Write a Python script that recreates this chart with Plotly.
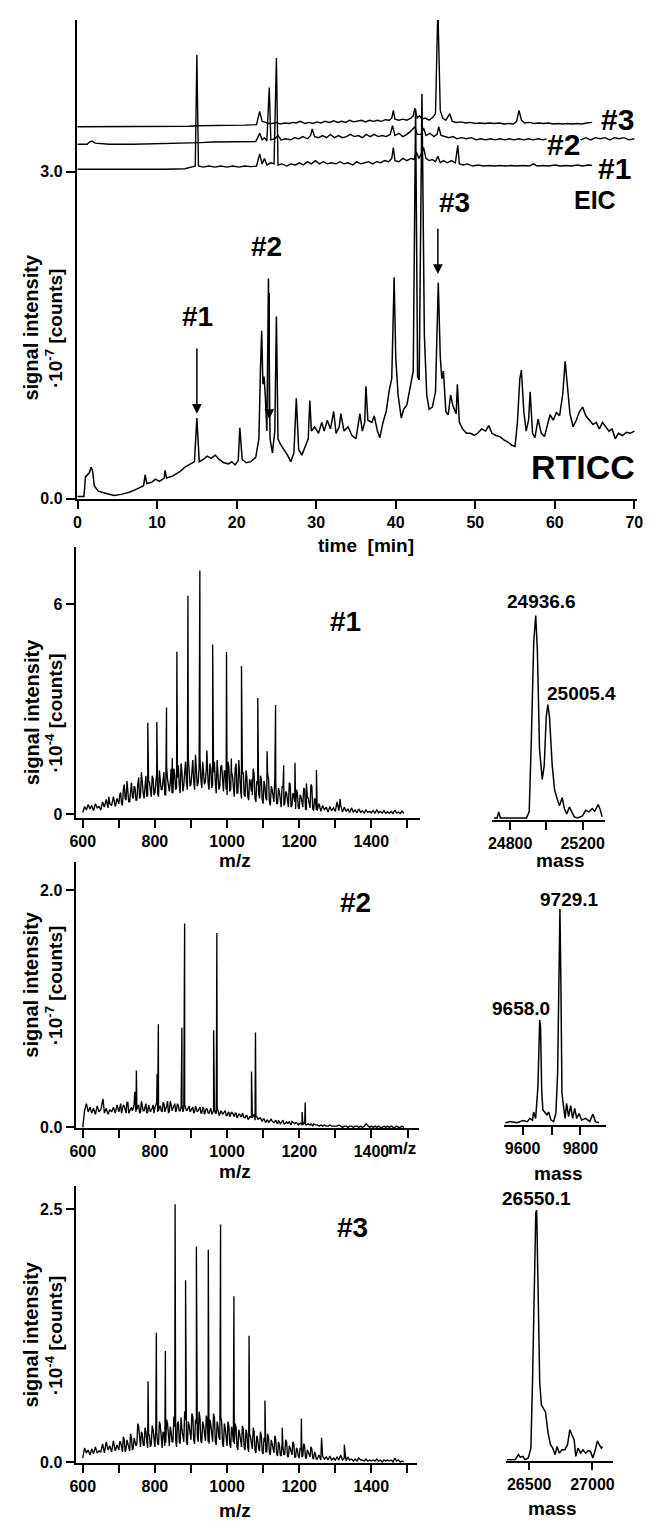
import plotly.graph_objects as go

W, H = 658, 1529
FONT = "Liberation Sans, Arial, Helvetica, sans-serif"

# ---------------- chromatogram: RTICC (signal x 10^-7 counts) ----------------
rticc_time = [0.0, 0.8, 1.0, 1.3, 1.5, 1.7, 1.9, 2.1, 2.6, 3.5, 4.6, 5.5, 6.5, 7.5, 8.3, 8.5, 8.7, 9.3, 9.8,
              10.3, 10.9, 11.0, 11.2, 12.0, 12.9, 13.5, 14.2, 14.7, 15.0, 15.3, 15.8, 16.3, 16.8, 17.3, 17.8,
              18.4, 19.0, 19.4, 19.8, 20.2, 20.4, 20.7, 21.2, 21.8, 22.4, 22.8, 23.0, 23.15, 23.3, 23.45, 23.6,
              23.8, 24.0, 24.2, 24.5, 24.8, 25.0, 25.2, 25.5, 25.9, 26.4, 26.8, 27.2, 27.5, 27.8, 28.2, 28.7,
              29.0, 29.2, 29.4, 29.8, 30.3, 30.7, 31.0, 31.4, 31.8, 32.2, 32.5, 32.9, 33.1, 33.5, 34.0, 34.5,
              35.0, 35.5, 35.8, 36.1, 36.25, 36.5, 37.0, 37.3, 37.7, 38.0, 38.4, 38.8, 39.2, 39.5, 39.8, 40.0,
              40.3, 40.7, 41.0, 41.4, 41.8, 42.2, 42.5, 42.75, 42.95, 43.3, 43.6, 43.9, 44.2, 44.6, 45.0, 45.35,
              45.6, 45.8, 46.0, 46.3, 46.6, 46.9, 47.2, 47.6, 47.75, 48.0, 48.4, 48.9, 49.4, 49.9, 50.3, 50.8,
              51.3, 51.7, 52.1, 52.6, 53.1, 53.6, 54.1, 54.6, 55.0, 55.3, 55.6, 55.8, 56.1, 56.4, 56.7, 56.9,
              57.2, 57.5, 57.9, 58.3, 58.7, 59.1, 59.4, 59.8, 60.2, 60.6, 61.0, 61.3, 61.6, 61.9, 62.3, 62.7,
              63.1, 63.5, 63.9, 64.3, 64.8, 65.2, 65.6, 66.0, 66.4, 66.8, 67.2, 67.6, 68.0, 68.5, 69.0, 69.5, 70.0]
rticc_signal = [0.02, 0.02, 0.20, 0.22, 0.24, 0.29, 0.25, 0.12, 0.07, 0.05, 0.03, 0.04, 0.06, 0.09, 0.12, 0.22, 0.14, 0.15, 0.18,
                0.16, 0.19, 0.26, 0.19, 0.21, 0.25, 0.29, 0.32, 0.34, 0.74, 0.34, 0.36, 0.39, 0.37, 0.40, 0.36,
                0.33, 0.32, 0.34, 0.31, 0.35, 0.65, 0.36, 0.33, 0.34, 0.38, 0.55, 1.20, 1.54, 1.05, 1.12, 0.95,
                0.62, 2.02, 0.55, 0.42, 0.62, 1.67, 0.55, 0.50, 0.46, 0.40, 0.34, 0.42, 0.92, 0.45, 0.40, 0.50,
                0.55, 0.90, 0.62, 0.66, 0.60, 0.70, 0.62, 0.72, 0.64, 0.80, 0.60, 0.66, 0.78, 0.62, 0.66, 0.58,
                0.55, 0.78, 0.62, 0.70, 1.03, 0.72, 0.70, 0.76, 0.62, 0.56, 0.70, 0.80, 1.00, 1.10, 2.03, 1.30,
                0.95, 0.74, 0.82, 0.86, 1.00, 1.17, 3.57, 1.12, 1.09, 3.71, 1.50, 0.95, 0.82, 0.84, 0.98, 1.98,
                1.30, 1.10, 1.17, 0.80, 0.77, 0.95, 0.85, 0.78, 1.05, 0.70, 0.64, 0.60, 0.60, 0.58, 0.60, 0.64,
                0.62, 0.67, 0.60, 0.58, 0.57, 0.54, 0.52, 0.49, 0.48, 0.70, 1.10, 1.18, 0.80, 0.62, 0.72, 0.98,
                0.60, 0.56, 0.73, 0.60, 0.57, 0.70, 0.77, 0.72, 0.79, 0.76, 0.96, 1.26, 1.00, 0.78, 0.66, 0.72,
                0.80, 0.84, 0.76, 0.72, 0.68, 0.70, 0.64, 0.70, 0.66, 0.62, 0.64, 0.55, 0.60, 0.58, 0.61, 0.60, 0.62]

# ---------------- extracted ion chromatograms (relative heights, drawn with offsets) ----------------
eic1_time = [0, 2, 5, 8, 11, 13.5, 14.3, 14.8, 15.0, 15.2, 15.8, 16.5, 17.3, 18.0, 18.8, 19.5, 20.3, 21.0, 21.8,
             22.5, 22.9, 23.2, 23.5, 23.8, 24.3, 24.7, 25.0, 25.2, 25.7, 26.3, 26.8, 27.4, 27.9, 28.4, 28.9, 29.4,
             29.9, 30.4, 30.9, 31.4, 31.9, 32.5, 33.0, 33.5, 34.0, 34.6, 35.1, 35.6, 36.1, 36.6, 37.1, 37.6, 38.1,
             38.6, 39.1, 39.5, 39.7, 39.9, 40.4, 40.9, 41.4, 41.9, 42.3, 42.6, 42.9, 43.2, 43.5, 43.8, 44.2, 44.6,
             45.0, 45.3, 45.6, 46.0, 46.5, 47.0, 47.5, 47.8, 48.0, 48.5, 49.0, 49.7, 50.4, 51.0, 51.7, 52.4, 53.1,
             53.8, 54.5, 55.2, 56.0, 56.8, 57.3, 57.8, 58.5, 59.2, 60.0, 60.7, 61.4, 62.1, 62.8, 63.5, 64.2, 64.7]
eic1_signal = [0.0, 0.0, -0.005, 0.0, 0.0, 0.005, 0.02, 0.03, 1.05, 0.03, 0.02, 0.03, 0.02, 0.03, 0.02, 0.03, 0.02, 0.03, 0.025,
               0.03, 0.14, 0.05, 0.10, 0.04, 0.06, 0.05, 1.02, 0.04, 0.05, 0.03, 0.05, 0.04, 0.06, 0.04, 0.07, 0.05,
               0.08, 0.05, 0.07, 0.05, 0.06, 0.05, 0.07, 0.05, 0.06, 0.04, 0.07, 0.05, 0.06, 0.07, 0.05, 0.07, 0.06,
               0.08, 0.07, 0.10, 0.20, 0.08, 0.07, 0.10, 0.08, 0.10, 0.09, 0.16, 0.10, 0.14, 0.20, 0.10, 0.08, 0.09,
               0.07, 0.12, 0.06, 0.08, 0.06, 0.08, 0.06, 0.22, 0.05, 0.04, 0.05, 0.03, 0.04, 0.03, 0.035, 0.03, 0.035,
               0.03, 0.035, 0.03, 0.035, 0.03, 0.05, 0.03, 0.035, 0.03, 0.04, 0.03, 0.035, 0.03, 0.04, 0.03, 0.04, 0.035]

eic2_time = [0, 1.2, 1.5, 1.8, 2.2, 4, 7, 10, 13, 14.5, 15.5, 17, 19, 21, 22.4, 22.9, 23.2, 23.5, 23.8, 24.1, 24.3,
             24.8, 25.2, 25.6, 26.2, 26.8, 27.3, 27.8, 28.3, 28.9, 29.3, 29.5, 29.8, 30.3, 30.8, 31.3, 31.8, 32.3,
             32.8, 33.3, 33.8, 34.3, 34.8, 35.3, 35.8, 36.3, 36.8, 37.3, 37.8, 38.3, 38.8, 39.3, 39.6, 39.9, 40.4,
             40.9, 41.4, 41.9, 42.4, 42.7, 43.2, 43.5, 43.8, 44.3, 44.8, 45.2, 45.4, 45.7, 46.2, 46.7, 47.2, 47.7,
             48.3, 48.9, 49.5, 50.1, 50.7, 51.3, 51.9, 52.5, 53.1, 53.7, 54.3, 54.9, 55.5, 56.1, 56.7, 57.3, 57.9,
             58.5, 59.1, 59.7, 60.3, 60.9, 61.5, 62.1, 62.7, 63.3, 63.9, 64.5, 65.1, 65.7, 66.3, 66.9, 67.5, 68.1,
             68.7, 69.3, 70.0]
eic2_signal = [0.0, 0.0, 0.02, 0.03, 0.01, 0.0, 0.0, 0.005, 0.005, 0.01, 0.015, 0.02, 0.02, 0.02, 0.025, 0.10, 0.04, 0.06, 0.03, 0.52, 0.04,
               0.05, 0.08, 0.04, 0.05, 0.04, 0.06, 0.05, 0.07, 0.05, 0.08, 0.14, 0.07, 0.06, 0.08, 0.06, 0.09, 0.06,
               0.08, 0.06, 0.07, 0.09, 0.07, 0.08, 0.06, 0.09, 0.07, 0.09, 0.07, 0.08, 0.07, 0.09, 0.17, 0.08, 0.10,
               0.07, 0.09, 0.12, 0.16, 0.09, 0.09, 0.15, 0.08, 0.10, 0.07, 0.09, 0.16, 0.08, 0.07, 0.06, 0.07, 0.05,
               0.06, 0.05, 0.06, 0.04, 0.05, 0.04, 0.05, 0.04, 0.05, 0.04, 0.05, 0.04, 0.05, 0.04, 0.05, 0.04, 0.05,
               0.04, 0.05, 0.04, 0.05, 0.04, 0.05, 0.06, 0.05, 0.04, 0.06, 0.04, 0.06, 0.05, 0.06, 0.04, 0.06, 0.05,
               0.06, 0.04, 0.05]

eic3_time = [0, 5, 10, 14, 15, 17, 19, 21, 22.5, 22.9, 23.2, 23.6, 24.0, 24.5, 25.0, 25.5, 26.0, 26.6, 27.1, 27.5,
             28.0, 28.6, 29.1, 29.6, 30.1, 30.6, 31.1, 31.7, 32.2, 32.7, 33.2, 33.7, 34.2, 34.7, 35.2, 35.7, 36.2,
             36.7, 37.2, 37.7, 38.2, 38.7, 39.2, 39.5, 39.7, 39.9, 40.4, 40.9, 41.4, 41.9, 42.2, 42.4, 42.7, 43.0,
             43.3, 43.7, 44.2, 44.7, 45.0, 45.3, 45.6, 45.9, 46.3, 46.8, 47.1, 47.6, 48.2, 48.8, 49.4, 50.0, 50.6,
             51.2, 51.8, 52.4, 53.0, 53.6, 54.2, 54.8, 55.2, 55.5, 55.8, 56.2, 56.8, 57.4, 58.0, 58.6, 59.2, 59.8,
             60.4, 61.0, 61.6, 62.2, 62.8, 63.4, 64.0, 64.7]
eic3_signal = [0.0, 0.0, 0.0, 0.005, 0.01, 0.01, 0.015, 0.015, 0.02, 0.14, 0.05, 0.04, 0.03, 0.03, 0.04, 0.025, 0.035, 0.03, 0.04, 0.035,
               0.05, 0.03, 0.04, 0.03, 0.045, 0.035, 0.05, 0.04, 0.055, 0.04, 0.05, 0.04, 0.06, 0.045, 0.05, 0.06, 0.045,
               0.06, 0.05, 0.06, 0.05, 0.065, 0.06, 0.08, 0.15, 0.07, 0.06, 0.07, 0.06, 0.08, 0.10, 0.17, 0.08, 0.10,
               0.07, 0.08, 0.06, 0.09, 0.12, 1.10, 0.15, 0.08, 0.06, 0.12, 0.05, 0.04, 0.045, 0.035, 0.04, 0.03, 0.035,
               0.03, 0.035, 0.03, 0.035, 0.025, 0.03, 0.025, 0.05, 0.15, 0.06, 0.035, 0.04, 0.03, 0.035, 0.03, 0.035, 0.025,
               0.03, 0.025, 0.03, 0.025, 0.03, 0.025, 0.035, 0.04]

eic_offsets = [3.02, 3.25, 3.41]
time_ticks = [0, 10, 20, 30, 40, 50, 60, 70]

# ---------------- ESI mass spectra ----------------
ms_grid = list(range(600, 1495, 5))              # m/z of the baseline readings
grass_grid = [702.5 + 5 * i for i in range(110)]  # m/z of the in-between readings (702.5 ... 1247.5)

ms1_noise = [0.05, 0.22, 0.12, 0.28, 0.15, 0.25, 0.10, 0.30, 0.18, 0.22,
             0.12, 0.35, 0.20, 0.42, 0.18, 0.30, 0.25, 0.50, 0.22, 0.45,
             0.30, 0.62, 0.25, 0.85, 0.40, 0.70, 0.35, 0.90, 0.45, 0.75,
             0.40, 1.05, 0.50, 0.80, 0.45, 1.10, 0.55, 0.90, 0.50, 1.00,
             0.60, 1.15, 0.50, 0.95, 0.70, 1.20, 0.55, 1.00, 0.65, 1.30,
             0.60, 1.10, 0.75, 1.40, 0.60, 1.20, 0.80, 1.50, 0.70, 1.25,
             0.85, 1.55, 0.70, 1.30, 0.90, 1.60, 0.75, 1.20, 0.95, 1.45,
             0.70, 1.30, 0.85, 1.50, 0.60, 1.25, 0.80, 1.40, 0.65, 1.20,
             0.55, 1.35, 0.70, 1.10, 0.50, 1.45, 0.60, 1.00, 0.45, 1.20,
             0.50, 1.05, 0.40, 0.90, 0.55, 1.15, 0.35, 0.85, 0.45, 1.00,
             0.30, 0.80, 0.40, 1.00, 0.25, 0.70, 0.35, 0.90, 0.30, 0.65,
             0.20, 0.75, 0.30, 0.60, 0.20, 0.85, 0.25, 0.55, 0.15, 0.60,
             0.15, 0.50, 0.20, 0.70, 0.12, 0.45, 0.18, 0.80, 0.10, 0.40,
             0.10, 0.30, 0.08, 0.25, 0.12, 0.20, 0.06, 0.22, 0.10, 0.18,
             0.08, 0.35, 0.10, 0.25, 0.06, 0.20, 0.08, 0.15, 0.05, 0.18,
             0.06, 0.12, 0.04, 0.15, 0.05, 0.10, 0.03, 0.12, 0.05, 0.08,
             0.04, 0.10, 0.03, 0.12, 0.04, 0.08, 0.03, 0.10, 0.02, 0.07,
             0.03, 0.08, 0.02, 0.12, 0.03, 0.06, 0.02, 0.09, 0.02]
ms1_grass = [0.55, 0.30, 0.70, 0.45, 0.95, 0.35, 0.60, 0.50, 0.80, 0.40,
             0.85, 0.45, 1.20, 0.60, 0.75, 0.50, 0.95, 0.65, 1.10, 0.55,
             0.90, 0.60, 1.25, 0.70, 1.00, 0.55, 1.35, 0.75, 0.90, 0.60,
             1.30, 0.70, 1.05, 0.85, 1.45, 0.65, 1.20, 0.90, 1.60, 0.80,
             1.25, 0.95, 1.70, 0.80, 1.35, 1.00, 1.50, 0.85, 1.30, 0.90,
             1.45, 0.75, 1.20, 0.90, 1.55, 0.70, 1.35, 0.85, 1.25, 0.70,
             1.50, 0.65, 1.20, 0.80, 1.30, 0.60, 1.55, 0.70, 1.15, 0.55,
             1.25, 0.50, 1.00, 0.65, 1.30, 0.45, 0.95, 0.60, 1.10, 0.40,
             0.95, 0.45, 1.15, 0.35, 0.80, 0.50, 1.05, 0.30, 0.75, 0.40,
             0.80, 0.25, 0.65, 0.40, 0.90, 0.20, 0.60, 0.35, 0.70, 0.20,
             0.55, 0.25, 0.75, 0.15, 0.50, 0.30, 0.85, 0.15, 0.45, 0.12]
ms1_peak_mz = [672, 754, 780.3, 805.4, 832.2, 848, 860.9, 891.6, 924.6, 944, 960.1, 998.5, 1012, 1040.0,
               1069, 1085.2, 1111, 1134.5, 1157, 1188.4, 1220, 1247.8, 1313.4]
ms1_peak_int = [0.50, 1.00, 2.61, 2.63, 3.05, 1.60, 4.64, 6.24, 6.96, 1.82, 4.85, 4.63, 1.59, 4.23,
                1.00, 3.32, 1.80, 3.12, 1.40, 1.47, 0.88, 1.26, 0.43]

ms2_noise = [0.00, 0.14, 0.20, 0.13, 0.17, 0.12, 0.16, 0.11, 0.18, 0.13,
             0.15, 0.24, 0.12, 0.16, 0.11, 0.15, 0.13, 0.17, 0.12, 0.19,
             0.13, 0.20, 0.15, 0.18, 0.12, 0.21, 0.14, 0.17, 0.16, 0.22,
             0.15, 0.19, 0.13, 0.17, 0.14, 0.20, 0.13, 0.16, 0.15, 0.19,
             0.17, 0.21, 0.14, 0.18, 0.13, 0.20, 0.15, 0.22, 0.14, 0.19,
             0.16, 0.20, 0.15, 0.18, 0.14, 0.19, 0.16, 0.17, 0.15, 0.18,
             0.14, 0.17, 0.13, 0.16, 0.14, 0.17, 0.12, 0.16, 0.13, 0.15,
             0.12, 0.16, 0.13, 0.15, 0.12, 0.14, 0.11, 0.13, 0.12, 0.14,
             0.10, 0.13, 0.11, 0.12, 0.09, 0.12, 0.10, 0.11, 0.09, 0.10,
             0.08, 0.10, 0.07, 0.09, 0.08, 0.11, 0.09, 0.07, 0.08, 0.06,
             0.07, 0.05, 0.06, 0.04, 0.06, 0.05, 0.04, 0.06, 0.03, 0.05,
             0.04, 0.06, 0.03, 0.05, 0.04, 0.03, 0.05, 0.03, 0.04, 0.03,
             0.03, 0.04, 0.02, 0.03, 0.02, 0.03, 0.02, 0.02, 0.03, 0.02,
             0.02, 0.01, 0.02, 0.01, 0.02, 0.01, 0.01, 0.02, 0.01, 0.01,
             0.01, 0.01, 0.02, 0.01, 0.00, 0.01, 0.01, 0.00, 0.01, 0.01,
             0.00, 0.01, 0.01, 0.00, 0.01, 0.00, 0.01, 0.03, 0.01, 0.00,
             0.01, 0.00, 0.01, 0.00, 0.01, 0.00, 0.00, 0.01, 0.00, 0.01,
             0.00, 0.01, 0.00, 0.00, 0.01, 0.00, 0.00, 0.01, 0.00]
ms2_grass = [0.17, 0.12, 0.19, 0.13, 0.21, 0.12, 0.16, 0.14, 0.20, 0.13,
             0.18, 0.12, 0.22, 0.14, 0.17, 0.12, 0.19, 0.13, 0.16, 0.12,
             0.19, 0.13, 0.17, 0.14, 0.21, 0.13, 0.18, 0.12, 0.22, 0.14,
             0.18, 0.13, 0.20, 0.14, 0.17, 0.13, 0.19, 0.14, 0.16, 0.13,
             0.16, 0.12, 0.18, 0.13, 0.15, 0.12, 0.17, 0.11, 0.16, 0.12,
             0.15, 0.11, 0.14, 0.12, 0.16, 0.10, 0.14, 0.11, 0.13, 0.10,
             0.12, 0.09, 0.13, 0.10, 0.12, 0.08, 0.11, 0.09, 0.12, 0.08,
             0.10, 0.07, 0.09, 0.08, 0.10, 0.06, 0.09, 0.07, 0.08, 0.05,
             0.07, 0.04, 0.06, 0.05, 0.07, 0.04, 0.05, 0.04, 0.06, 0.03,
             0.05, 0.03, 0.04, 0.03, 0.05, 0.02, 0.04, 0.03, 0.04, 0.02,
             0.03, 0.02, 0.04, 0.02, 0.03, 0.02, 0.03, 0.01, 0.02, 0.02]
ms2_peak_mz = [656, 744, 748.6, 806, 809.5, 874.8, 882.3, 962.7, 971.6, 1067.6, 1078.6, 1208, 1216.5]
ms2_peak_int = [0.24, 0.30, 0.48, 0.45, 0.87, 0.84, 1.72, 0.82, 1.64, 0.47, 0.80, 0.13, 0.21]

ms3_noise = [0.04, 0.14, 0.09, 0.12, 0.07, 0.13, 0.08, 0.15, 0.09, 0.11,
             0.10, 0.18, 0.09, 0.20, 0.12, 0.16, 0.10, 0.21, 0.11, 0.17,
             0.12, 0.20, 0.10, 0.22, 0.13, 0.18, 0.11, 0.24, 0.14, 0.20,
             0.18, 0.35, 0.15, 0.28, 0.16, 0.30, 0.14, 0.26, 0.18, 0.32,
             0.15, 0.30, 0.17, 0.36, 0.14, 0.28, 0.19, 0.38, 0.16, 0.30,
             0.20, 0.35, 0.15, 0.40, 0.18, 0.32, 0.20, 0.42, 0.17, 0.36,
             0.22, 0.45, 0.18, 0.38, 0.20, 0.43, 0.19, 0.36, 0.21, 0.40,
             0.18, 0.37, 0.20, 0.44, 0.17, 0.35, 0.22, 0.40, 0.15, 0.33,
             0.16, 0.36, 0.14, 0.30, 0.18, 0.34, 0.12, 0.28, 0.15, 0.32,
             0.12, 0.28, 0.10, 0.25, 0.13, 0.30, 0.09, 0.22, 0.11, 0.26,
             0.08, 0.20, 0.10, 0.24, 0.07, 0.18, 0.09, 0.22, 0.06, 0.17,
             0.06, 0.15, 0.08, 0.20, 0.05, 0.14, 0.07, 0.18, 0.05, 0.12,
             0.04, 0.12, 0.06, 0.16, 0.04, 0.10, 0.05, 0.13, 0.03, 0.08,
             0.03, 0.07, 0.02, 0.06, 0.03, 0.05, 0.02, 0.06, 0.02, 0.04,
             0.02, 0.05, 0.02, 0.07, 0.02, 0.04, 0.01, 0.05, 0.02, 0.03,
             0.01, 0.03, 0.01, 0.04, 0.02, 0.02, 0.01, 0.03, 0.01, 0.02,
             0.01, 0.02, 0.01, 0.03, 0.01, 0.02, 0.00, 0.02, 0.01, 0.02,
             0.01, 0.02, 0.00, 0.04, 0.01, 0.02, 0.00, 0.01, 0.00]
ms3_grass = [0.20, 0.12, 0.25, 0.10, 0.22, 0.15, 0.28, 0.12, 0.24, 0.16,
             0.38, 0.20, 0.30, 0.17, 0.34, 0.20, 0.28, 0.15, 0.36, 0.22,
             0.33, 0.18, 0.40, 0.20, 0.30, 0.16, 0.42, 0.22, 0.35, 0.20,
             0.45, 0.22, 0.38, 0.20, 0.44, 0.24, 0.50, 0.20, 0.40, 0.25,
             0.48, 0.22, 0.42, 0.26, 0.50, 0.20, 0.40, 0.24, 0.46, 0.20,
             0.42, 0.24, 0.48, 0.20, 0.40, 0.25, 0.45, 0.18, 0.38, 0.20,
             0.40, 0.18, 0.35, 0.20, 0.38, 0.15, 0.32, 0.18, 0.36, 0.14,
             0.32, 0.14, 0.28, 0.16, 0.34, 0.12, 0.26, 0.13, 0.30, 0.10,
             0.24, 0.10, 0.28, 0.09, 0.22, 0.11, 0.26, 0.08, 0.20, 0.07,
             0.18, 0.07, 0.22, 0.06, 0.16, 0.08, 0.20, 0.05, 0.14, 0.06,
             0.14, 0.05, 0.18, 0.04, 0.12, 0.06, 0.15, 0.04, 0.10, 0.03]
ms3_peak_mz = [781, 804, 829, 856, 885, 915, 948, 982, 1019, 1061, 1105, 1153, 1206, 1262, 1325]
ms3_peak_int = [0.80, 1.28, 1.10, 2.55, 1.80, 2.13, 2.10, 2.35, 1.64, 1.25, 0.61, 0.34, 0.43, 0.24, 0.17]

mz_major_ticks = [600, 800, 1000, 1200, 1400]
mz_minor_ticks = [700, 900, 1100, 1300, 1500]

# ---------------- deconvoluted mass spectra (relative intensity) ----------------
decon1_mass = [24710, 24728, 24737, 24746, 24890, 24905, 24917, 24930, 24941, 24950, 24962, 24977, 24988, 24999,
               25008, 25017, 25032, 25045, 25059, 25072, 25087, 25099, 25112, 25127, 25140, 25154, 25172, 25199,
               25217, 25235, 25253, 25266, 25286, 25298, 25307]
decon1_int = [0.0, 0.0, 0.03, 0.0, 0.0, 0.03, 0.39, 0.87, 1.0, 0.83, 0.34, 0.19, 0.26, 0.50,
              0.56, 0.50, 0.26, 0.14, 0.095, 0.06, 0.10, 0.046, 0.02, 0.054, 0.03, 0.005, 0.0, 0.01,
              0.038, 0.03, 0.046, 0.033, 0.066, 0.038, 0.005]
decon2_mass = [9540, 9557, 9580, 9602, 9616, 9625, 9634, 9638, 9645, 9653, 9659, 9662, 9666, 9670, 9676, 9684,
               9690, 9698, 9707, 9715, 9721, 9724, 9729, 9732, 9736, 9740, 9747, 9752, 9759, 9766, 9773, 9780,
               9787, 9795, 9804, 9818, 9832, 9843, 9852, 9864]
decon2_int = [0.0, 0.005, 0.0, 0.01, 0.005, 0.02, 0.012, 0.05, 0.02, 0.17, 0.48, 0.45, 0.15, 0.06, 0.05, 0.036,
              0.05, 0.012, 0.005, 0.043, 0.23, 0.51, 1.0, 0.69, 0.14, 0.09, 0.02, 0.09, 0.028, 0.08, 0.02, 0.067,
              0.02, 0.043, 0.012, 0.02, 0.005, 0.04, 0.005, 0.0]
decon3_mass = [26324, 26389, 26415, 26428, 26449, 26467, 26493, 26513, 26526, 26539, 26552, 26559, 26570, 26583,
               26596, 26614, 26629, 26648, 26668, 26686, 26705, 26720, 26738, 26759, 26782, 26803, 26821, 26837,
               26855, 26868, 26886, 26907, 26925, 26946, 26966, 26984, 27003, 27023, 27039, 27054, 27070, 27080]
decon3_int = [0.0, 0.0, 0.02, 0.01, 0.013, 0.0, 0.007, 0.046, 0.31, 0.71, 0.99, 1.0, 0.71, 0.31,
              0.22, 0.205, 0.19, 0.11, 0.06, 0.046, 0.02, 0.053, 0.026, 0.04, 0.04, 0.06, 0.12, 0.10,
              0.08, 0.013, 0.046, 0.026, 0.04, 0.026, 0.036, 0.033, 0.007, 0.04, 0.075, 0.06, 0.046, 0.053]

peak_labels = [("24936.6", 545, 605), ("25005.4", 586, 698), ("9729.1", 574, 905),
               ("9658.0", 524, 1014), ("26550.1", 540, 1206)]

assert len(ms_grid) == len(ms1_noise) == len(ms2_noise) == len(ms3_noise)
assert len(grass_grid) == len(ms1_grass) == len(ms2_grass) == len(ms3_grass)
assert len(rticc_time) == len(rticc_signal)
assert len(eic1_time) == len(eic1_signal) and len(eic2_time) == len(eic2_signal) and len(eic3_time) == len(eic3_signal)
assert len(decon1_mass) == len(decon1_int) and len(decon2_mass) == len(decon2_int) and len(decon3_mass) == len(decon3_int)


def merge(*pairs):
    pts = []
    for xs, ys in pairs:
        pts += list(zip(xs, ys))
    pts.sort()
    return [p[0] for p in pts], [p[1] for p in pts]


def px(x):
    return x / W


def py(y):
    return 1 - y / H


def xdom(a, b):
    return [px(a), px(b)]


def ydom(top, bottom):
    return [py(bottom), py(top)]


fig = go.Figure()


def add(x, y, xa, ya, width=1.3):
    fig.add_trace(go.Scatter(x=x, y=y, mode="lines", line=dict(color="black", width=width),
                             xaxis=xa, yaxis=ya, showlegend=False, hoverinfo="skip"))


# top panel
add(rticc_time, rticc_signal, "x", "y", 1.5)
for t, s, off in [(eic1_time, eic1_signal, eic_offsets[0]), (eic2_time, eic2_signal, eic_offsets[1]),
                  (eic3_time, eic3_signal, eic_offsets[2])]:
    add(t, [v + off for v in s], "x", "y", 1.4)

# spectra
for i, (noise, grass, pmz, pint) in enumerate([(ms1_noise, ms1_grass, ms1_peak_mz, ms1_peak_int),
                                               (ms2_noise, ms2_grass, ms2_peak_mz, ms2_peak_int),
                                               (ms3_noise, ms3_grass, ms3_peak_mz, ms3_peak_int)]):
    mx, my = merge((ms_grid, noise), (grass_grid, grass), (pmz, pint))
    add(mx, my, "x%d" % (i + 2), "y%d" % (i + 2), 1.35)

add(decon1_mass, decon1_int, "x5", "y5", 1.5)
add(decon2_mass, decon2_int, "x6", "y6", 1.5)
add(decon3_mass, decon3_int, "x7", "y7", 1.5)

TICKFONT = dict(family=FONT, size=16, color="black", weight="bold")


def xax(dom, rng, tv, anchor, minor_vals=None):
    d = dict(domain=dom, range=rng, anchor=anchor, showline=True, linecolor="black", linewidth=1.6,
             ticks="outside", ticklen=8, tickwidth=1.6, tickcolor="black", tickmode="array",
             tickvals=tv, ticktext=[str(v) for v in tv],
             tickfont=TICKFONT, showgrid=False, zeroline=False, fixedrange=True)
    if minor_vals:
        d["minor"] = dict(tickmode="array", tickvals=minor_vals, ticks="outside", ticklen=8, tickwidth=1.6,
                          tickcolor="black", showgrid=False)
    return d


def yax(dom, rng, tv, tt, anchor, visible=True):
    d = dict(domain=dom, range=rng, anchor=anchor, showgrid=False, zeroline=False, fixedrange=True)
    if visible:
        d.update(showline=True, linecolor="black", linewidth=1.6, ticks="outside", ticklen=9, tickwidth=1.6,
                 tickcolor="black", tickvals=tv, ticktext=tt, tickfont=TICKFONT)
    else:
        d.update(visible=False)
    return d


layout = dict(
    width=W, height=H, autosize=False, margin=dict(l=0, r=0, t=0, b=0),
    paper_bgcolor="white", plot_bgcolor="white", showlegend=False,
    font=dict(family=FONT, color="black"),
    xaxis=xax(xdom(71, 643), [-0.12, 70.37], time_ticks, "y"),
    yaxis=yax(ydom(20, 501.7), [0, 4.39], [0, 3], ["0.0", "3.0"], "x"),
    xaxis2=xax(xdom(70.7, 421.7), [582.1, 1535.9], mz_major_ticks, "y2", mz_minor_ticks),
    yaxis2=yax(ydom(550, 823.3), [-0.122, 7.64], [0, 6], ["0", "6"], "x2"),
    xaxis3=xax(xdom(70.7, 420), [582.1, 1531], mz_major_ticks, "y3", mz_minor_ticks),
    yaxis3=yax(ydom(866.7, 1135), [-0.0084, 2.242], [0, 2], ["0.0", "2.0"], "x3"),
    xaxis4=xax(xdom(70.7, 418), [582.1, 1525.8], mz_major_ticks, "y4", mz_minor_ticks),
    yaxis4=yax(ydom(1193.3, 1471.7), [-0.0099, 2.729], [0, 2.5], ["0.0", "2.5"], "x4"),
    xaxis5=xax(xdom(495, 610), [24701, 25323], [24800, 25200], "y5", [25000]),
    yaxis5=yax(ydom(590, 825), [-0.011, 1.144], None, None, "x5", visible=False),
    xaxis6=xax(xdom(507.3, 610.7), [9536.6, 9887], [9600, 9800], "y6", [9700]),
    yaxis6=yax(ydom(890, 1131.7), [-0.011, 1.113], None, None, "x6", visible=False),
    xaxis7=xax(xdom(509, 618.3), [26316, 27163], [26500, 27000], "y7"),
    yaxis7=yax(ydom(1200, 1469.3), [-0.004, 1.069], None, None, "x7", visible=False),
)
fig.update_layout(**layout)


def label(text, x, y, size, angle=0, bg=None):
    a = dict(text=text, x=px(x), y=py(y), xref="paper", yref="paper", showarrow=False,
             xanchor="center", yanchor="middle", textangle=angle,
             font=dict(family=FONT, size=size, color="black", weight="bold"))
    if bg:
        a.update(bgcolor=bg, borderpad=0)
    fig.add_annotation(**a)


# y-axis titles
for yc, exp in [(330, "-7"), (717, "-4"), (991, "-7"), (1343, "-4")]:
    label("signal intensity", 25, yc, 20, -90)
    label("\u00b710<sup>%s</sup> [counts]" % exp, 48, yc, 19, -90)

# x-axis titles
label("time  [min]", 366, 549, 19)
for yv in [866, 1178, 1519]:
    label("m/z", 233, yv, 19)
for xv, yv in [(565, 866), (563, 1180), (556, 1517)]:
    label("mass", xv, yv, 19)
label("m/z", 403, 1155, 17)

# compound labels
label("#1", 345, 625, 28)
label("#2", 356, 908, 28)
label("#3", 352, 1235, 28)
label("#1", 194, 318, 28)
label("#2", 265, 248, 28)
label("#3", 457, 204, 28)
label("EIC", 600, 201, 25)
label("RTICC", 588, 470, 34)
label("#3", 623, 120, 30)
label("#2", 568, 145, 30, bg="white")
label("#1", 620, 170, 30)

for text, x, y in peak_labels:
    label(text, x, y, 19)

# arrows marking the three compounds in the RTICC
for t, head, tail in [(15.0, 0.78, 1.39), (24.1, 0.73, 1.90), (45.3, 2.06, 2.49)]:
    fig.add_annotation(x=t, y=head, ax=t, ay=tail, xref="x", yref="y", axref="x", ayref="y",
                       showarrow=True, arrowhead=2, arrowsize=1.3, arrowwidth=1.5, arrowcolor="black", text="")

fig.write_html("out.html", config={"displayModeBar": False},
               post_script="document.body.style.margin='0px';")
